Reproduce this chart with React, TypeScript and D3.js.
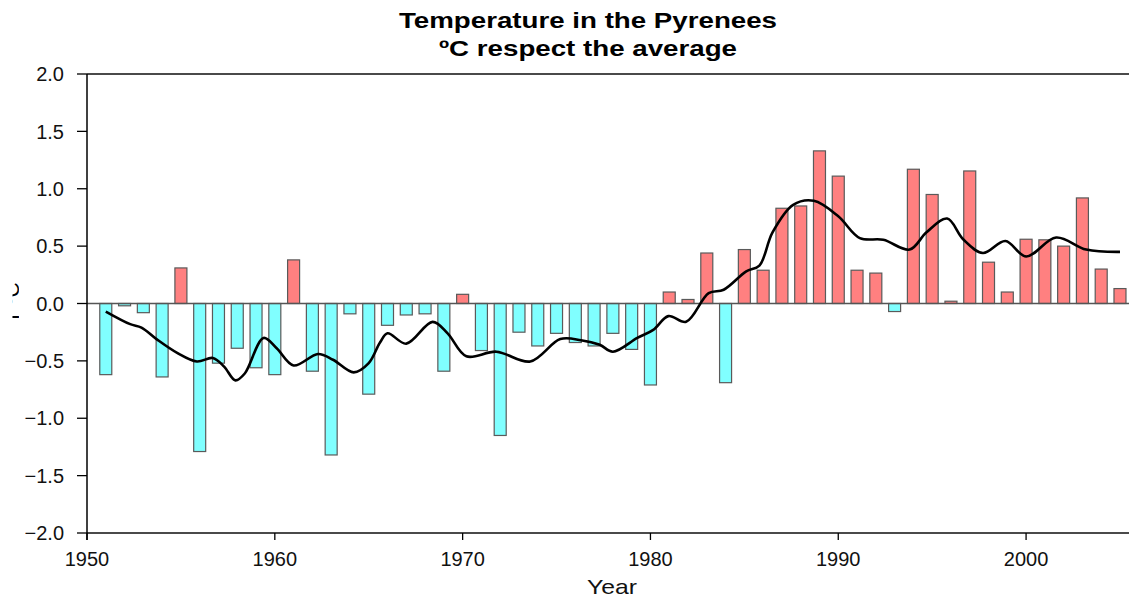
import React from "react";
import * as d3 from "d3";

const years: number[] = d3.range(1951, 2006);
const anomalies: number[] = [
  -0.62, -0.02, -0.08, -0.64, 0.31, -1.29, -0.52, -0.39, -0.56, -0.62,
  0.38, -0.59, -1.32, -0.09, -0.79, -0.19, -0.1, -0.09, -0.59, 0.08,
  -0.41, -1.15, -0.25, -0.37, -0.26, -0.34, -0.37, -0.26, -0.4, -0.71,
  0.1, 0.035, 0.44, -0.69, 0.47, 0.29, 0.83, 0.85, 1.33, 1.11,
  0.29, 0.265, -0.07, 1.17, 0.95, 0.02, 1.155, 0.36, 0.1, 0.56,
  0.555, 0.5, 0.92, 0.3, 0.13,
];

const smoothYears: number[] = [
  1951.0, 1952.3, 1952.9, 1953.7, 1954.8, 1955.85, 1956.7, 1957.3, 1957.9, 1958.4,
  1959.4, 1960.1, 1961.0, 1962.3, 1963.1, 1964.2, 1965.0, 1965.6, 1966.0, 1967.0,
  1968.4, 1969.2, 1970.2, 1971.8, 1973.6, 1975.2, 1976.3, 1977.3, 1978.0, 1979.3,
  1980.15, 1980.95, 1981.9, 1983.1, 1983.9, 1985.1, 1985.8, 1986.5, 1987.6, 1988.7,
  1990.0, 1991.15, 1992.4, 1993.8, 1994.7, 1995.8, 1996.65, 1997.7, 1998.9, 2000.0,
  2001.6, 2003.2, 2005.0,
];
const smoothValues: number[] = [
  -0.07, -0.18, -0.21, -0.31, -0.43, -0.505, -0.475, -0.55, -0.67, -0.61,
  -0.3, -0.39, -0.54, -0.44, -0.49, -0.6, -0.52, -0.34, -0.26, -0.35,
  -0.16, -0.26, -0.46, -0.42, -0.505, -0.31, -0.32, -0.36, -0.42, -0.3,
  -0.23, -0.11, -0.16, 0.09, 0.12, 0.28, 0.33, 0.62, 0.86, 0.895,
  0.76, 0.57, 0.555, 0.47, 0.62, 0.74, 0.56, 0.44, 0.545, 0.41,
  0.575, 0.47, 0.45,
];

const yTicks: number[] = [-2, -1.5, -1, -0.5, 0, 0.5, 1, 1.5, 2];
const xTicks: number[] = [1950, 1960, 1970, 1980, 1990, 2000];

const titleLines: string[] = ["Temperature in the Pyrenees", "ºC respect the average"];
const xLabel = "Year";
const yLabel = "T ºC";

const W = 1129;
const H = 600;
const left = 87;
const right = 1129;
const top = 74;
const bottom = 533;
const FONT = "'Liberation Sans', Arial, Helvetica, sans-serif";

export default function App() {
  const x = d3.scaleLinear().domain([1950, 2005.48]).range([left, right]);
  const y = d3.scaleLinear().domain([-2, 2]).range([bottom, top]);
  const barW = 12;

  const line = d3
    .line<number>()
    .x((_, i) => x(smoothYears[i]))
    .y((d) => y(d))
    .curve(d3.curveCatmullRom.alpha(0.5));

  return (
    <svg
      width={W}
      height={H}
      style={{ position: "absolute", left: 0, top: 0, background: "#fff" }}
      fontFamily={FONT}
    >
      <defs>
        <clipPath id="ylabClip">
          <rect x={12.5} y={250} width={6.5} height={100} />
        </clipPath>
      </defs>
      <rect x={0} y={0} width={W} height={H} fill="#fff" />

      {/* title */}
      <text x={588} y={28} textAnchor="middle" fontSize={22} fontWeight="bold" textLength={378} lengthAdjust="spacingAndGlyphs">
        {titleLines[0]}
      </text>
      <text x={588} y={56} textAnchor="middle" fontSize={22} fontWeight="bold" textLength={298} lengthAdjust="spacingAndGlyphs">
        {titleLines[1]}
      </text>

      {/* clipped y label */}
      <g clipPath="url(#ylabClip)">
        <text transform="translate(19,323.5) rotate(-90)" fontSize={21} textAnchor="start">
          {yLabel}
        </text>
      </g>

      {/* bars */}
      {years.map((yr, i) => {
        const v = anomalies[i];
        const y0 = y(0);
        const y1 = y(v);
        return (
          <rect
            key={yr}
            x={x(yr) - barW / 2}
            y={Math.min(y0, y1)}
            width={barW}
            height={Math.abs(y1 - y0)}
            fill={v >= 0 ? "#FF8080" : "#80FFFF"}
            stroke="#5a5a5a"
            strokeWidth={1.2}
          />
        );
      })}

      {/* zero line */}
      <line x1={left} x2={right} y1={y(0)} y2={y(0)} stroke="#555" strokeWidth={1.3} />

      {/* smooth line */}
      <path d={line(smoothValues) || ""} fill="none" stroke="#000" strokeWidth={2.6} strokeLinejoin="round" />

      {/* frame lines */}
      <line x1={left} x2={right} y1={top} y2={top} stroke="#4a4a4a" strokeWidth={2} />
      <line x1={left} x2={right} y1={bottom} y2={bottom} stroke="#4a4a4a" strokeWidth={2} />
      <line x1={left} x2={left} y1={top} y2={bottom + 7} stroke="#000" strokeWidth={1.5} />

      {/* y axis ticks */}
      {yTicks.map((t) => (
        <g key={t}>
          <line x1={left - 10} x2={left} y1={y(t)} y2={y(t)} stroke="#000" strokeWidth={1.3} />
          <text x={64} y={y(t)} dy="0.36em" textAnchor="end" fontSize={20} fill="#111">
            {d3.format(".1f")(t)}
          </text>
        </g>
      ))}

      {/* x axis ticks */}
      {xTicks.map((t) => (
        <g key={t}>
          <line x1={x(t)} x2={x(t)} y1={bottom} y2={bottom + 7} stroke="#000" strokeWidth={1.3} />
          <text x={x(t)} y={566} textAnchor="middle" fontSize={20} fill="#111">
            {t}
          </text>
        </g>
      ))}

      <text x={612} y={594} textAnchor="middle" fontSize={21} fill="#111" textLength={50} lengthAdjust="spacingAndGlyphs">
        {xLabel}
      </text>
    </svg>
  );
}
